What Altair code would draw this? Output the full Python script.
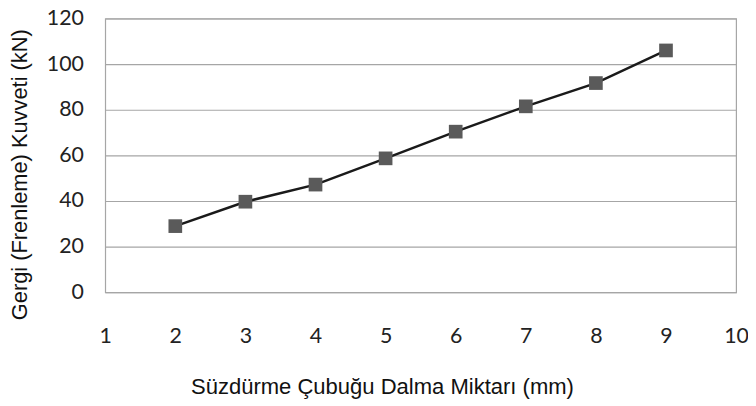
import altair as alt
import pandas as pd

x_vals = [2, 3, 4, 5, 6, 7, 8, 9]
y_vals = [29, 39.7, 47.2, 58.7, 70.4, 81.5, 91.7, 106]
x_ticks = [1, 2, 3, 4, 5, 6, 7, 8, 9, 10]
y_ticks = [0, 20, 40, 60, 80, 100, 120]

df = pd.DataFrame({"x": x_vals, "y": y_vals})

x_enc = alt.X("x:Q",
              scale=alt.Scale(domain=[1, 10], nice=False, zero=False),
              axis=alt.Axis(values=x_ticks, format="d", grid=False, ticks=False, domain=False,
                            labelFont="Lato", labelFontSize=21.5, labelColor="#222222",
                            labelPadding=34, labelFlush=False,
                            title="Süzdürme Çubuğu Dalma Miktarı (mm)",
                            titleFont="Liberation Sans", titleFontSize=22.2,
                            titleFontWeight="normal", titleColor="#111111",
                            titleX=279, titleY=102, titleAnchor="start",
                            titleAlign="center", titleBaseline="alphabetic"))
y_enc = alt.Y("y:Q",
              scale=alt.Scale(domain=[0, 120], nice=False),
              axis=alt.Axis(values=y_ticks, format="d", grid=True, gridColor="#a6a6a6", gridWidth=1.2,
                            ticks=False, domain=False,
                            labelFont="Lato", labelFontSize=21.5, labelColor="#222222",
                            labelPadding=22, labelFlush=False,
                            title="Gergi (Frenleme) Kuvveti (kN)",
                            titleFont="Liberation Sans", titleFontSize=22,
                            titleFontWeight="normal", titleColor="#111111",
                            titleAngle=-90, titleX=-86, titleY=157,
                            titleAlign="center", titleBaseline="middle"))

line = alt.Chart(df).mark_line(color="#1a1a1a", strokeWidth=2.5).encode(x=x_enc, y=y_enc)
pts = alt.Chart(df).mark_point(shape="square", filled=True, size=190, color="#5a5a5a",
                               opacity=1).encode(x="x:Q", y="y:Q")

chart = (line + pts).properties(
    width=636, height=276,
    autosize=alt.AutoSizeParams(type="none"),
    padding={"left": 98, "top": 9, "right": 12, "bottom": 106},
    background="white",
).configure_view(stroke="#a6a6a6", strokeWidth=1.2)

chart.save("out.html", embed_options={"renderer": "svg", "actions": False})
